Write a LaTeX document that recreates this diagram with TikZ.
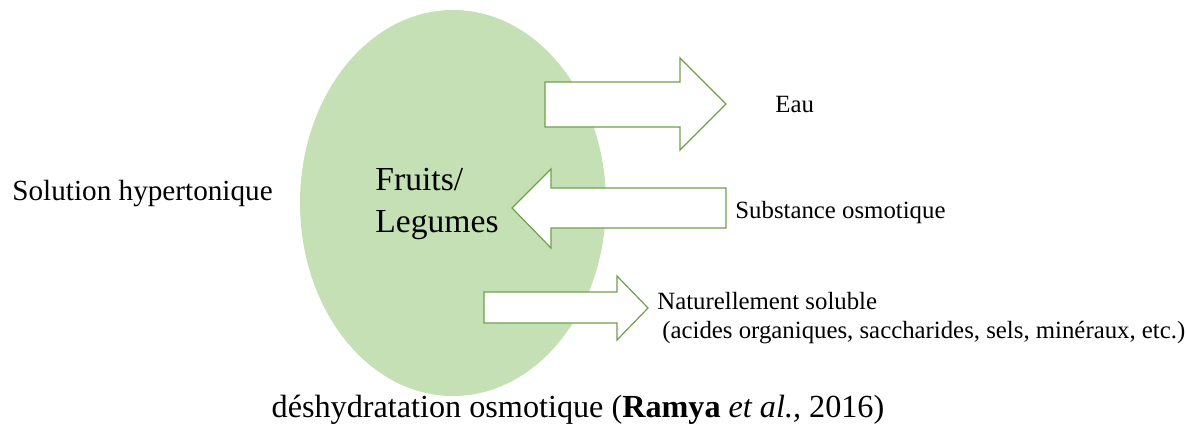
\documentclass[tikz,border=0pt]{standalone}
\usepackage{fontspec}
\setmainfont{Liberation Serif}
\usetikzlibrary{positioning}
\definecolor{fruitgreen}{RGB}{197,224,180}
\definecolor{arrowgreen}{RGB}{112,160,76}
\tikzset{
  blockarrow/.style={draw=arrowgreen, line width=0.6pt, fill=white, line join=miter},
  lbl/.style={inner sep=0pt, anchor=west, font=\fontsize{12.4}{14}\selectfont}
}

\begin{document}
\begin{tikzpicture}[x=0.5pt,y=-0.5pt]
        \useasboundingbox (0,0) rectangle (1187,428);
        % Fruit
        \fill[fruitgreen] (453,203) ellipse [x radius=153, y radius=193];
        % Arrows
        \draw[blockarrow] (545,82) -- (680,82) -- (680,58) -- (726,104) -- (680,150) -- (680,127) -- (545,127) -- cycle;
        \draw[blockarrow] (726,188) -- (551,188) -- (551,169) -- (512,208) -- (551,248) -- (551,228) -- (726,228) -- cycle;
        \draw[blockarrow] (484,292) -- (617,292) -- (617,276) -- (648,308) -- (617,340) -- (617,323) -- (484,323) -- cycle;
        % Labels
        \node[lbl] (eau) at (775,104) {Eau};
        \node[lbl] (subst) at (735,213) {Substance osmotique};
        \node[lbl] (nat) at (657,301) {Naturellement soluble};
        \node[lbl] (acides) at (662,333) {(acides organiques, saccharides, sels, minéraux, etc.)};
        \node[lbl, font=\fontsize{14.6}{16}\selectfont] (solution) at (12,194) {Solution hypertonique};
        \node[inner sep=0pt, align=left, anchor=west, font=\fontsize{16.8}{21}\selectfont] (fruits) at (375,204) {Fruits/\\Legumes};
        \node[inner sep=0pt, font=\fontsize{16.1}{18}\selectfont] (caption) at (578,410) {déshydratation osmotique (\textbf{Ramya} \textit{et al.,} 2016)};
\end{tikzpicture}
\end{document}
